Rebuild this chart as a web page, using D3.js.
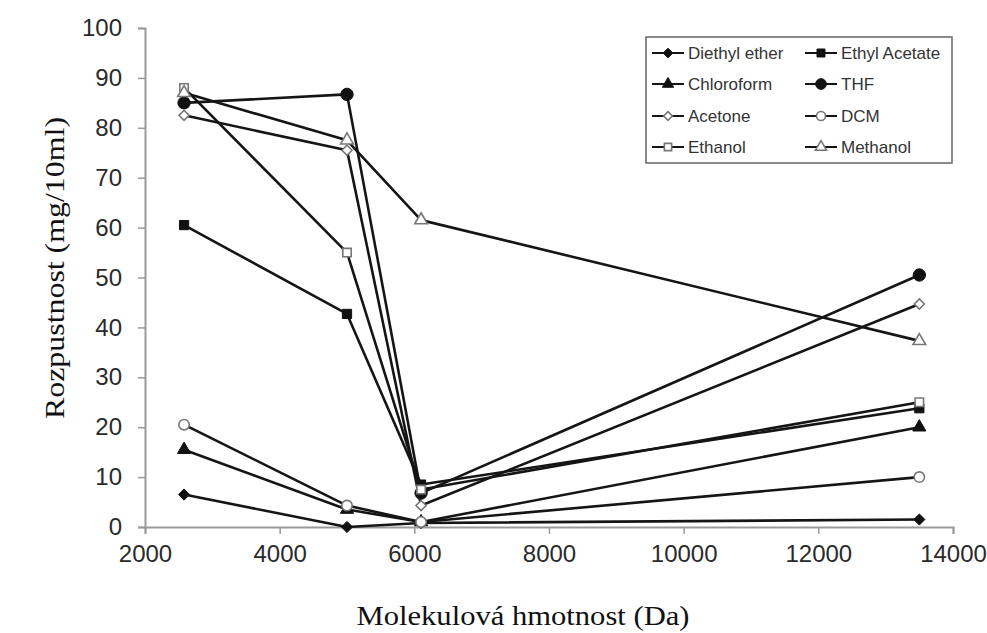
<!DOCTYPE html>
<html>
<head>
<meta charset="utf-8">
<script src="https://cdn.jsdelivr.net/npm/d3@7"></script>
<style>
  html, body { margin: 0; padding: 0; background: #fff; }
  svg { display: block; }
</style>
</head>
<body>
<svg id="chart" width="987" height="633"></svg>
<script>
// Molecular weights (Da) of the samples
const masses = [2580, 5000, 6100, 13500];

// Solubility (mg/10ml) per solvent, one value per molecular weight
const diethylEther = [6.5, 0.0, 0.8, 1.5];
const ethylAcetate = [60.5, 42.7, 8.5, 23.8];
const chloroform   = [15.5, 3.5, 1.0, 20.0];
const thf          = [85.0, 86.7, 6.8, 50.5];
const acetone      = [82.5, 75.5, 4.3, 44.7];
const dcm          = [20.5, 4.3, 1.0, 10.0];
const ethanol      = [88.0, 55.0, 7.5, 25.0];
const methanol     = [87.0, 77.5, 61.5, 37.3];

const seriesNames = ["Diethyl ether", "Ethyl Acetate", "Chloroform", "THF",
                     "Acetone", "DCM", "Ethanol", "Methanol"];
const seriesValues = [diethylEther, ethylAcetate, chloroform, thf,
                      acetone, dcm, ethanol, methanol];

const xTicks = [2000, 4000, 6000, 8000, 10000, 12000, 14000];
const yTicks = [0, 10, 20, 30, 40, 50, 60, 70, 80, 90, 100];

const xTitle = "Molekulová hmotnost (Da)";
const yTitle = "Rozpustnost (mg/10ml)";

// marker style per series: shape + filled/open
const markerStyle = [
  { shape: "diamond",  filled: true },
  { shape: "square",   filled: true },
  { shape: "triangle", filled: true },
  { shape: "circle",   filled: true },
  { shape: "diamond",  filled: false },
  { shape: "circle",   filled: false },
  { shape: "square",   filled: false },
  { shape: "triangle", filled: false }
];

const svg = d3.select("#chart");
const plotLeft = 145, plotRight = 953, plotTop = 28, plotBottom = 527;

const x = d3.scaleLinear().domain([2000, 14000]).range([plotLeft, plotRight]);
const y = d3.scaleLinear().domain([0, 100]).range([plotBottom, plotTop]);

const axisColor = "#9a9a9a";
const tickFont = "'Liberation Sans', Arial, sans-serif";

// x axis
const gx = svg.append("g").attr("transform", `translate(0,${plotBottom})`)
  .call(d3.axisBottom(x).tickValues(xTicks).tickFormat(d3.format("d"))
        .tickSize(7).tickPadding(11));
gx.select(".domain").attr("stroke", axisColor).attr("stroke-width", 2);
gx.selectAll(".tick line").attr("stroke", axisColor).attr("stroke-width", 1.5);
gx.selectAll(".tick text").attr("font-family", tickFont).attr("font-size", 24)
  .attr("fill", "#2a2a2a");

// y axis
const gy = svg.append("g").attr("transform", `translate(${plotLeft},0)`)
  .call(d3.axisLeft(y).tickValues(yTicks).tickFormat(d3.format("d"))
        .tickSize(7).tickPadding(16));
gy.select(".domain").attr("stroke", axisColor).attr("stroke-width", 2);
gy.selectAll(".tick line").attr("stroke", axisColor).attr("stroke-width", 1.5);
gy.selectAll(".tick text").attr("font-family", tickFont).attr("font-size", 24)
  .attr("fill", "#2a2a2a");

// axis titles
const serif = "'Liberation Serif', 'Times New Roman', serif";
svg.append("text")
  .attr("x", 523).attr("y", 625)
  .attr("text-anchor", "middle")
  .attr("font-family", serif).attr("font-size", 27).attr("fill", "#111")
  .attr("textLength", 333).attr("lengthAdjust", "spacingAndGlyphs")
  .text(xTitle);
svg.append("text")
  .attr("transform", "translate(64,268) rotate(-90)")
  .attr("text-anchor", "middle")
  .attr("font-family", serif).attr("font-size", 27).attr("fill", "#111")
  .attr("textLength", 302).attr("lengthAdjust", "spacingAndGlyphs")
  .text(yTitle);

// marker drawing
const symbolFor = {
  diamond: d3.symbolDiamond2 || d3.symbolDiamond,
  square: d3.symbolSquare,
  triangle: d3.symbolTriangle,
  circle: d3.symbolCircle
};
const sizeFor = { diamond: 80, square: 85, triangle: 75, circle: 120 };
const openSizeFor = { diamond: 65, square: 70, triangle: 70, circle: 85 };

function drawMarker(g, style, cx, cy, scale = 1) {
  const size = (style.filled ? sizeFor[style.shape] : openSizeFor[style.shape]) * scale;
  g.append("path")
    .attr("d", d3.symbol().type(symbolFor[style.shape]).size(size)())
    .attr("transform", `translate(${cx},${cy})`)
    .attr("fill", style.filled ? "#111" : "#fff")
    .attr("stroke", style.filled ? "#111" : "#777")
    .attr("stroke-width", style.filled ? 1 : 1.6);
}

const line = d3.line().x((d, i) => x(masses[i])).y(d => y(d));

const plot = svg.append("g");
seriesValues.forEach((vals, s) => {
  const g = plot.append("g");
  g.append("path")
    .datum(vals)
    .attr("d", line)
    .attr("fill", "none")
    .attr("stroke", "#151515")
    .attr("stroke-width", 2.6)
    .attr("stroke-linejoin", "round");
  vals.forEach((v, i) => drawMarker(g, markerStyle[s], x(masses[i]), y(v)));
});

// legend
const legend = svg.append("g");
legend.append("rect")
  .attr("x", 646).attr("y", 37).attr("width", 306).attr("height", 126)
  .attr("fill", "#fff").attr("stroke", "#666").attr("stroke-width", 1.5);

const colX = [652, 805];
const rowY = [53, 84, 116, 147];
seriesNames.forEach((name, s) => {
  const cx = colX[s % 2];
  const cy = rowY[Math.floor(s / 2)];
  legend.append("line")
    .attr("x1", cx).attr("x2", cx + 32).attr("y1", cy).attr("y2", cy)
    .attr("stroke", "#151515").attr("stroke-width", 2);
  drawMarker(legend, markerStyle[s], cx + 16, cy, 0.75);
  legend.append("text")
    .attr("x", cx + 36).attr("y", cy).attr("dy", "0.35em")
    .attr("font-family", tickFont).attr("font-size", 17).attr("fill", "#333")
    .text(name);
});
</script>
</body>
</html>
